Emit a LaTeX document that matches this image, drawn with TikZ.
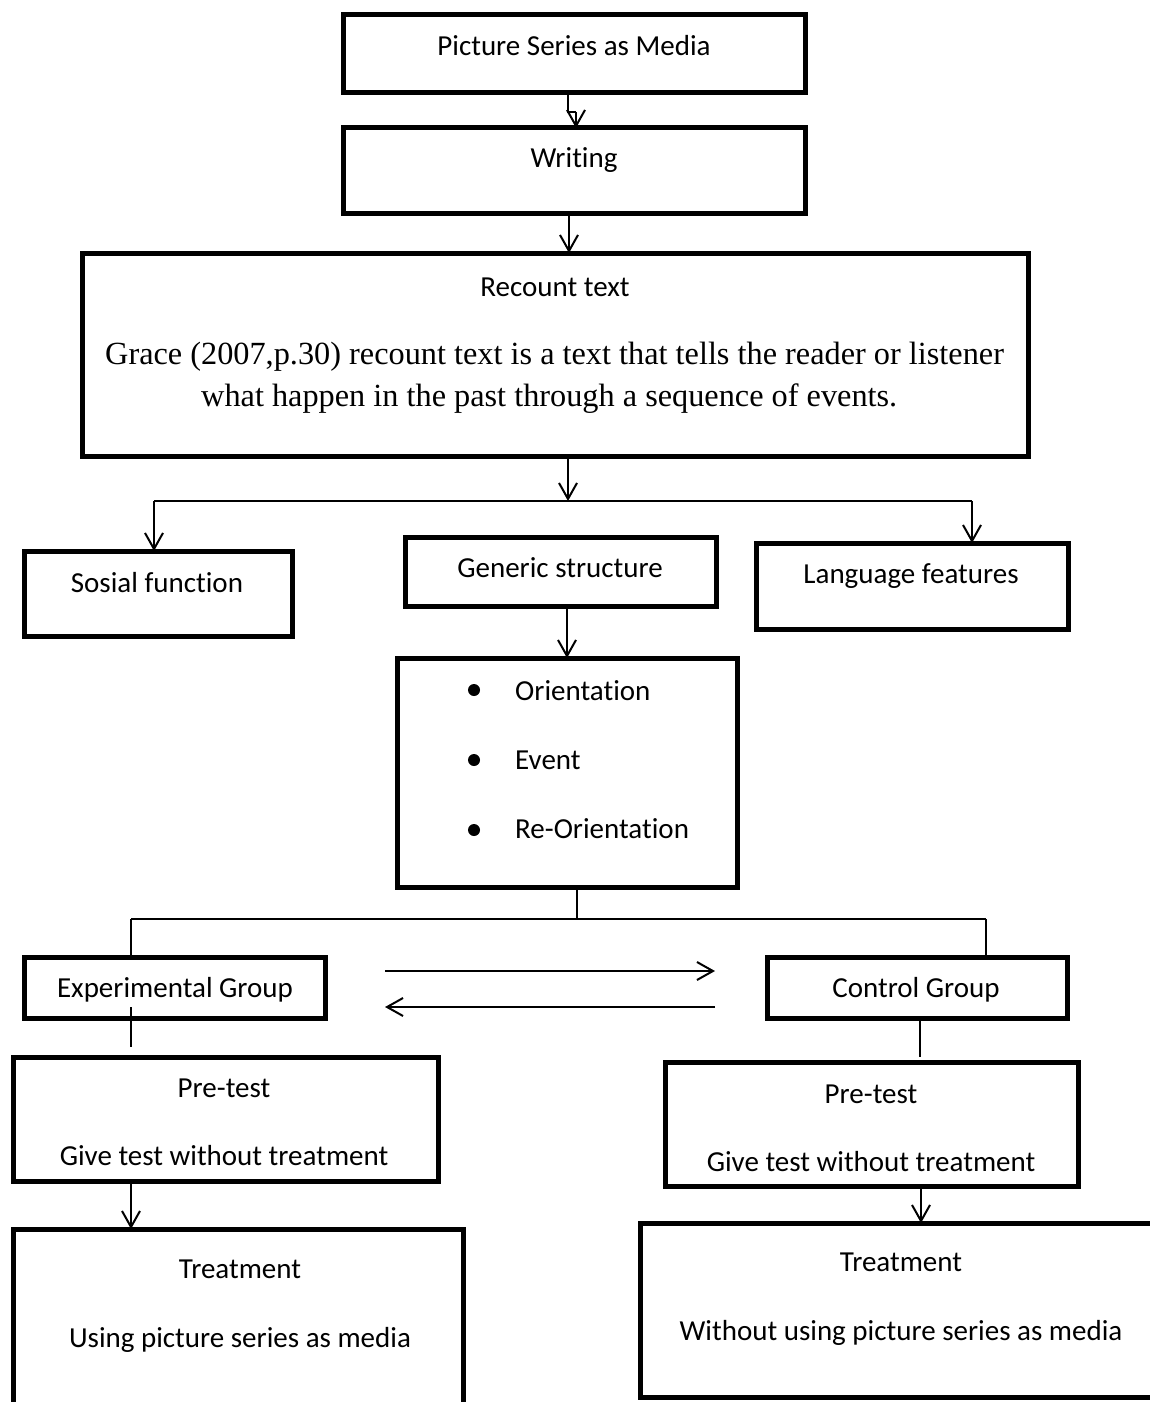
\documentclass[tikz,border=0pt]{standalone}
\usepackage{fontspec}
\setmainfont{Carlito}[RawFeature={-liga}]
\newfontfamily\tmsfont{Liberation Serif}
\usetikzlibrary{arrows.meta}
\newcommand\mkbox[5]{\node[box, minimum width={#4-#2}, minimum height={#5-#3}] (#1) at (#2,#3) {};}
\begin{document}
\begin{tikzpicture}[x=1pt,y=-1pt,
  box/.style={draw, line width=5pt, rectangle, inner sep=0pt, outer sep=0pt, anchor=north west},
  lbl/.style={font=\fontsize{29}{35}\selectfont, inner sep=0pt, anchor=base},
  serif/.style={font=\tmsfont\fontsize{32.3}{38}\selectfont, inner sep=0pt, anchor=base west},
  conn/.style={line width=2pt},
  arr/.style={conn, -{Straight Barb[length=16pt,width=18pt,line width=2pt]}},
  dot/.style={circle, fill, inner sep=0pt, minimum size=12pt}
]
\useasboundingbox (0,0) rectangle (1150,1402);
\clip (0,0) rectangle (1150,1402);

% boxes
\mkbox{b1}{343}{15}{805}{93}
\mkbox{b2}{343}{128}{805}{213}
\mkbox{b3}{82}{253}{1028}{456}
\mkbox{sf}{24}{551}{292}{636}
\mkbox{gs}{405}{537}{716}{606}
\mkbox{lf}{756}{543}{1068}{629}
\mkbox{bul}{397}{658}{737}{887}
\mkbox{exp}{24}{957}{325}{1018}
\mkbox{ctrl}{767}{957}{1067}{1018}
\mkbox{preL}{13}{1057}{438}{1181}
\mkbox{preR}{665}{1062}{1078}{1186}
\mkbox{trL}{13}{1229}{463}{1440}
\mkbox{trR}{640}{1223}{1175}{1397}

% texts
\node[lbl] (t1) at (574,56) {Picture Series as Media};
\node[lbl] (t2) at (574,167) {Writing};
\node[lbl] (t3) at (555,296) {Recount text};
\node[serif] (g1) at (105,364) {Grace (2007,p.30) recount text is a text that tells the reader or listener};
\node[serif] (g2) at (201,406) {what happen in the past through a sequence of events.};
\node[lbl] (tsf) at (157,592) {Sosial function};
\node[lbl] (tgs) at (560,577) {Generic structure};
\node[lbl] (tlf) at (911,583) {Language features};
\node[dot] (d1) at (474,690) {};
\node[dot] (d2) at (474,760) {};
\node[dot] (d3) at (474,830) {};
\node[lbl, anchor=base west] (o1) at (515,700) {Orientation};
\node[lbl, anchor=base west] (o2) at (515,769) {Event};
\node[lbl, anchor=base west] (o3) at (515,838) {Re-Orientation};
\node[lbl] (texp) at (175,997) {Experimental Group};
\node[lbl] (tctrl) at (916,997) {Control Group};
\node[lbl] (pl1) at (224,1097) {Pre-test};
\node[lbl] (pl2) at (224,1165) {Give test without treatment};
\node[lbl] (pr1) at (871,1103) {Pre-test};
\node[lbl] (pr2) at (871,1171) {Give test without treatment};
\node[lbl] (tl1) at (240,1278) {Treatment};
\node[lbl] (tl2) at (240,1347) {Using picture series as media};
\node[lbl] (tr1) at (901,1271) {Treatment};
\node[lbl] (tr2) at (901,1340) {Without using picture series as media};

% connector points
\coordinate (j1) at (568,501);
\coordinate (jl) at (154,501);
\coordinate (jr) at (972,501);
\coordinate (j2) at (577,919);
\coordinate (j2l) at (131,919);
\coordinate (j2r) at (986,919);
\coordinate (ha1) at (385,971);
\coordinate (ha2) at (715,971);
\coordinate (hb1) at (715,1007);
\coordinate (hb2) at (385,1007);
\coordinate (e1) at (131,1007);
\coordinate (e2) at (131,1047);
\coordinate (c1) at (920,1057);
\coordinate (k1) at (921,1222);

% connectors
\draw[conn] ([xshift=-6pt]b1.south) -- ++(0,19) coordinate (m1) -- (m1 -| 576,0);
\draw[arr] (m1 -| 576,0) -- ([xshift=2pt]b2.north);
\draw[arr] ([xshift=-5pt]b2.south) -- ([xshift=-5pt]b2.south |- b3.north);
\draw[arr] (b3.south -| j1) -- (j1);
\draw[conn] (jl) -- (jr);
\draw[arr] (jl) -- (jl |- sf.north);
\draw[arr] (jr) -- (jr |- lf.north);
\draw[arr] (gs.south -| bul.north) -- (bul.north);
\draw[conn] (bul.south -| j2) -- (j2);
\draw[conn] (j2l) -- (j2r);
\draw[conn] (j2l) -- (j2l |- exp.north);
\draw[conn] (j2r) -- (j2r |- ctrl.north);
\draw[arr] (ha1) -- (ha2);
\draw[arr] (hb1) -- (hb2);
\draw[conn] (e1) -- (e2);
\draw[conn] (ctrl.south -| c1) -- (c1);
\draw[arr] (preL.south -| e1) -- (e1 |- trL.north);
\draw[arr] (preR.south -| k1) -- (k1 |- trR.north);
\end{tikzpicture}
\end{document}
